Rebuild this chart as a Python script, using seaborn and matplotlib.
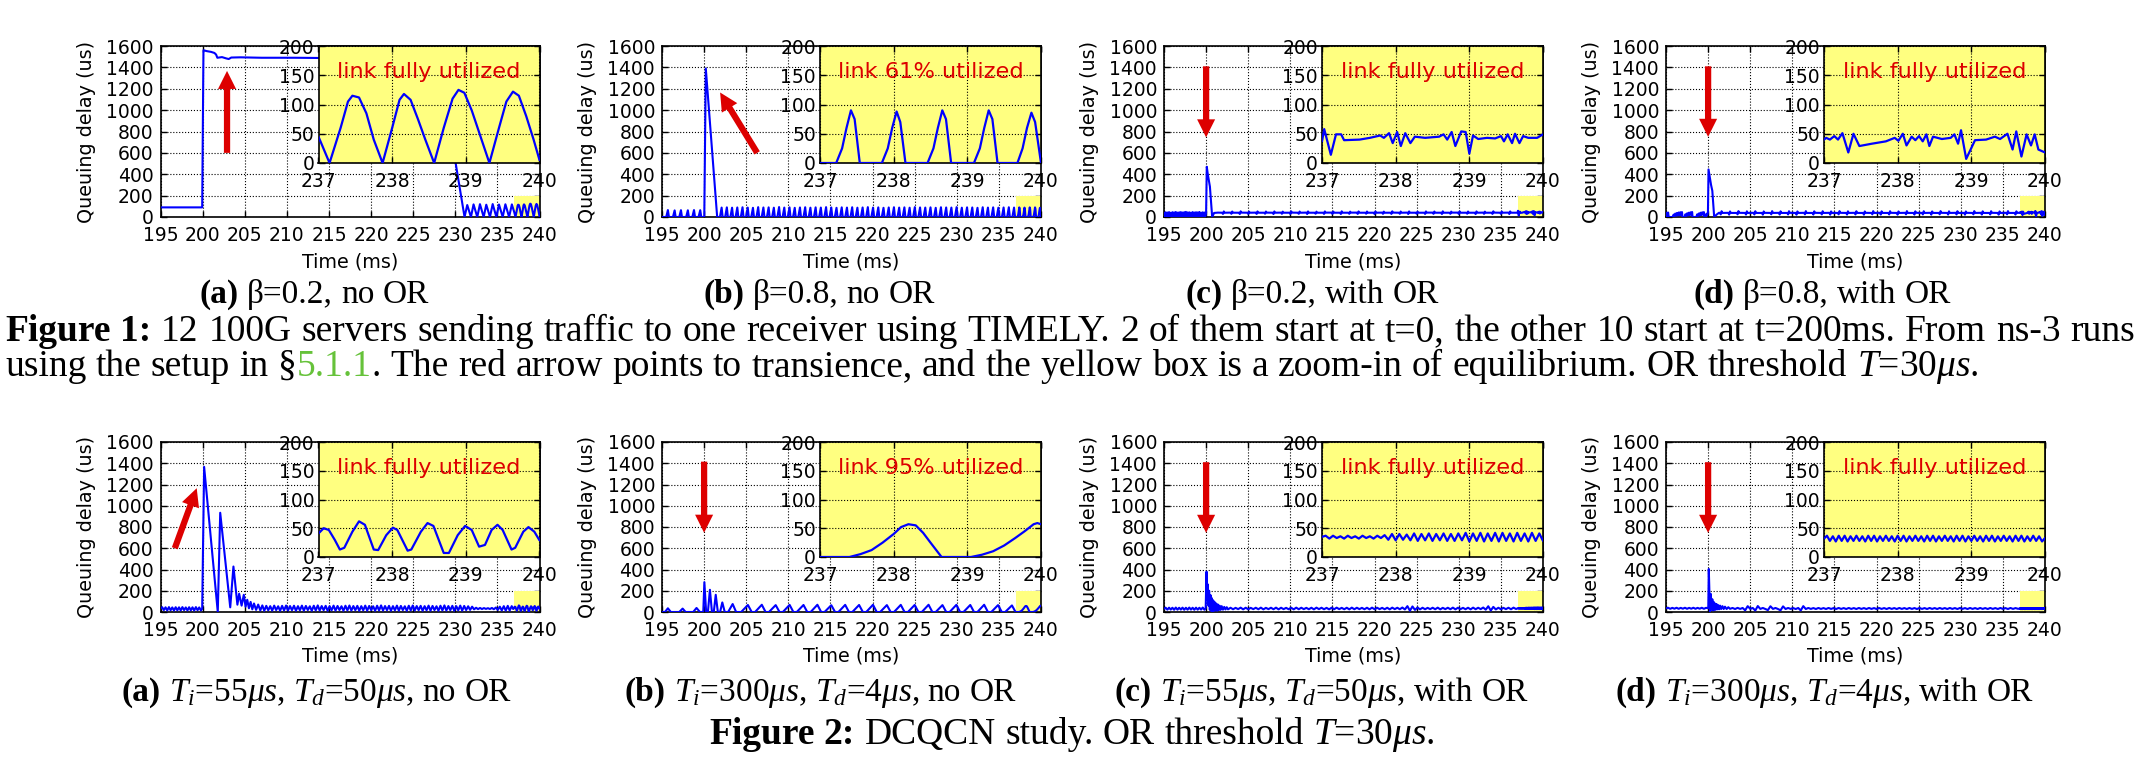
import numpy as np
import pandas as pd
import matplotlib
matplotlib.use('Agg')
import matplotlib.pyplot as plt
import matplotlib.transforms as mtransforms
import seaborn as sns

# zoom window shown in every inset (time in ms, queuing delay in us)
zoom_t = [237, 240]
zoom_q = [0, 200]

main_xticks = list(range(195, 241, 5))
main_yticks = list(range(0, 1601, 200))
zoom_xticks = [237, 238, 239, 240]
zoom_yticks = [0, 50, 100, 150, 200]

# ---------------- Figure 1: TIMELY ----------------
# (a) beta=0.2, no OR
timely_a = [
    (195.0, 90), (199.95, 90), (200.1, 1560), (200.5, 1552), (201.0, 1545), (201.4, 1535), (201.6, 1520),
    (201.75, 1490), (202.3, 1496), (202.8, 1484), (203.1, 1478), (203.4, 1492), (204.5, 1494), (207.0, 1490),
    (211.0, 1490), (215.0, 1487), (220.0, 1486), (225.0, 1484), (228.0, 1480),
    (231.1, 0), (231.42, 112), (231.86, 0), (232.17, 118), (232.61, 0), (232.93, 120), (233.37, 0),
    (233.68, 115), (234.12, 0), (234.44, 121), (234.88, 0), (235.19, 117), (235.63, 0), (235.95, 119),
    (236.39, 0), (236.72, 118),
]
timely_a_zoom = [
    (237.00, 45), (237.15, 0), (237.30, 60), (237.40, 105), (237.46, 115), (237.55, 112), (237.65, 85),
    (237.75, 40), (237.87, 0), (238.00, 60), (238.10, 108), (238.16, 118), (238.25, 108), (238.35, 75),
    (238.45, 40), (238.57, 0), (238.70, 60), (238.82, 110), (238.90, 125), (238.98, 120), (239.08, 90),
    (239.20, 45), (239.32, 0), (239.45, 60), (239.55, 105), (239.64, 122), (239.72, 115), (239.82, 80),
    (239.92, 40), (240.00, 5),
]

# (b) beta=0.8, no OR
timely_b = [
    (195.0, 0), (195.5, 0), (195.7, 65), (195.82, 0), (196.3, 0), (196.5, 62), (196.62, 0),
    (197.05, 0), (197.25, 64), (197.37, 0), (197.87, 0), (198.07, 63), (198.19, 0), (198.6, 0),
    (198.8, 65), (198.92, 0), (199.34, 0), (199.54, 64), (199.66, 0), (200.02, 0), (200.2, 1390), (201.55, 0),
    (201.88, 0), (202.08, 88), (202.20, 0), (202.50, 0), (202.70, 90), (202.82, 0),
    (203.12, 0), (203.32, 87), (203.44, 0), (203.74, 0), (203.94, 89), (204.06, 0),
    (204.36, 0), (204.56, 91), (204.68, 0), (204.98, 0), (205.18, 88), (205.30, 0),
    (205.60, 0), (205.80, 86), (205.92, 0), (206.22, 0), (206.42, 92), (206.54, 0),
    (206.84, 0), (207.04, 89), (207.16, 0), (207.46, 0), (207.66, 90), (207.78, 0),
    (208.08, 0), (208.28, 87), (208.40, 0), (208.70, 0), (208.90, 93), (209.02, 0),
    (209.32, 0), (209.52, 88), (209.64, 0), (209.94, 0), (210.14, 90), (210.26, 0),
    (210.56, 0), (210.76, 86), (210.88, 0), (211.18, 0), (211.38, 89), (211.50, 0),
    (211.80, 0), (212.00, 91), (212.12, 0), (212.42, 0), (212.62, 87), (212.74, 0),
    (213.04, 0), (213.24, 90), (213.36, 0), (213.66, 0), (213.86, 88), (213.98, 0),
    (214.28, 0), (214.48, 92), (214.60, 0), (214.90, 0), (215.10, 89), (215.22, 0),
    (215.52, 0), (215.72, 86), (215.84, 0), (216.14, 0), (216.34, 90), (216.46, 0),
    (216.76, 0), (216.96, 88), (217.08, 0), (217.38, 0), (217.58, 91), (217.70, 0),
    (218.00, 0), (218.20, 87), (218.32, 0), (218.62, 0), (218.82, 89), (218.94, 0),
    (219.24, 0), (219.44, 92), (219.56, 0), (219.86, 0), (220.06, 88), (220.18, 0),
    (220.48, 0), (220.68, 90), (220.80, 0), (221.10, 0), (221.30, 86), (221.42, 0),
    (221.72, 0), (221.92, 89), (222.04, 0), (222.34, 0), (222.54, 91), (222.66, 0),
    (222.96, 0), (223.16, 88), (223.28, 0), (223.58, 0), (223.78, 90), (223.90, 0),
    (224.20, 0), (224.40, 87), (224.52, 0), (224.82, 0), (225.02, 92), (225.14, 0),
    (225.44, 0), (225.64, 89), (225.76, 0), (226.06, 0), (226.26, 88), (226.38, 0),
    (226.68, 0), (226.88, 90), (227.00, 0), (227.30, 0), (227.50, 86), (227.62, 0),
    (227.92, 0), (228.12, 91), (228.24, 0), (228.54, 0), (228.74, 89), (228.86, 0),
    (229.16, 0), (229.36, 88), (229.48, 0), (229.78, 0), (229.98, 92), (230.10, 0),
    (230.40, 0), (230.60, 87), (230.72, 0), (231.02, 0), (231.22, 90), (231.34, 0),
    (231.64, 0), (231.84, 89), (231.96, 0), (232.26, 0), (232.46, 86), (232.58, 0),
    (232.88, 0), (233.08, 91), (233.20, 0), (233.50, 0), (233.70, 88), (233.82, 0),
    (234.12, 0), (234.32, 90), (234.44, 0), (234.74, 0), (234.94, 87), (235.06, 0),
    (235.36, 0), (235.56, 89), (235.68, 0), (235.98, 0), (236.18, 91), (236.30, 0),
    (236.60, 0), (236.80, 88), (236.92, 0),
]
timely_b_zoom = [
    (237.00, 0), (237.22, 0), (237.30, 25), (237.36, 60), (237.42, 90), (237.47, 75), (237.54, 0),
    (237.84, 0), (237.92, 25), (237.98, 60), (238.04, 88), (238.09, 70), (238.16, 0),
    (238.46, 0), (238.54, 25), (238.60, 60), (238.66, 90), (238.71, 75), (238.78, 0),
    (239.09, 0), (239.17, 25), (239.23, 60), (239.29, 90), (239.34, 75), (239.41, 0),
    (239.68, 0), (239.75, 25), (239.81, 60), (239.87, 86), (239.92, 70), (240.00, 0),
]

# (c) beta=0.2, with OR
timely_c = [
    (195.0, 40), (195.1, 5), (195.2, 44), (195.3, 8), (195.4, 42), (195.5, 3), (195.6, 46), (195.7, 10), (195.8, 40), (195.9, 4),
    (196.0, 45), (196.1, 7), (196.2, 43), (196.3, 2), (196.4, 47), (196.5, 9), (196.6, 41), (196.7, 5), (196.8, 44), (196.9, 6),
    (197.0, 46), (197.1, 3), (197.2, 42), (197.3, 8), (197.4, 45), (197.5, 4), (197.6, 48), (197.7, 7), (197.8, 43), (197.9, 2),
    (198.0, 44), (198.1, 9), (198.2, 41), (198.3, 5), (198.4, 46), (198.5, 6), (198.6, 42), (198.7, 3), (198.8, 45), (198.9, 8),
    (199.0, 43), (199.1, 4), (199.2, 47), (199.3, 6), (199.4, 41), (199.5, 3), (199.6, 44), (199.7, 7), (199.8, 42), (199.9, 5),
    (200.0, 40), (200.08, 470), (200.2, 400), (200.35, 330), (200.45, 285), (200.72, 0), (200.95, 38), (201.4, 41),
    (201.9, 40), (202.0, 29), (202.1, 52), (202.2, 40), (202.9, 41), (203.0, 30), (203.1, 51), (203.2, 40),
    (203.9, 40), (204.0, 28), (204.1, 53), (204.2, 41), (204.9, 40), (205.0, 30), (205.1, 50), (205.2, 40),
    (205.9, 41), (206.0, 29), (206.1, 52), (206.2, 40), (206.9, 40), (207.0, 31), (207.1, 51), (207.2, 41),
    (207.9, 40), (208.0, 28), (208.1, 52), (208.2, 40), (208.9, 41), (209.0, 30), (209.1, 50), (209.2, 40),
    (209.9, 40), (210.0, 29), (210.1, 53), (210.2, 41), (210.9, 40), (211.0, 30), (211.1, 51), (211.2, 40),
    (211.9, 41), (212.0, 28), (212.1, 52), (212.2, 40), (212.9, 40), (213.0, 31), (213.1, 50), (213.2, 40),
    (213.9, 40), (214.0, 29), (214.1, 52), (214.2, 41), (214.9, 41), (215.0, 30), (215.1, 51), (215.2, 40),
    (215.9, 40), (216.0, 28), (216.1, 53), (216.2, 40), (216.9, 40), (217.0, 30), (217.1, 50), (217.2, 41),
    (217.9, 41), (218.0, 29), (218.1, 52), (218.2, 40), (218.9, 40), (219.0, 31), (219.1, 51), (219.2, 40),
    (219.9, 40), (220.0, 28), (220.1, 52), (220.2, 40), (220.9, 41), (221.0, 30), (221.1, 50), (221.2, 40),
    (221.9, 40), (222.0, 29), (222.1, 53), (222.2, 41), (222.9, 40), (223.0, 30), (223.1, 51), (223.2, 40),
    (223.9, 41), (224.0, 28), (224.1, 52), (224.2, 40), (224.9, 40), (225.0, 31), (225.1, 50), (225.2, 40),
    (225.9, 40), (226.0, 29), (226.1, 52), (226.2, 41), (226.9, 41), (227.0, 30), (227.1, 51), (227.2, 40),
    (227.9, 40), (228.0, 28), (228.1, 53), (228.2, 40), (228.9, 40), (229.0, 30), (229.1, 50), (229.2, 41),
    (229.9, 41), (230.0, 29), (230.1, 52), (230.2, 40), (230.9, 40), (231.0, 31), (231.1, 51), (231.2, 40),
    (231.9, 40), (232.0, 28), (232.1, 52), (232.2, 40), (232.9, 41), (233.0, 30), (233.1, 50), (233.2, 40),
    (233.9, 40), (234.0, 29), (234.1, 53), (234.2, 41), (234.9, 40), (235.0, 30), (235.1, 51), (235.2, 40),
    (235.9, 41), (236.0, 28), (236.1, 52), (236.2, 40), (236.9, 40),
]
timely_c_zoom = [
    (237.00, 37), (237.03, 58), (237.12, 14), (237.19, 49), (237.26, 49), (237.30, 39), (237.51, 40),
    (237.65, 43), (237.79, 47), (237.84, 43), (237.91, 51), (237.96, 34), (238.02, 53), (238.07, 29),
    (238.13, 51), (238.20, 34), (238.26, 45), (238.40, 43), (238.59, 45), (238.65, 49), (238.70, 40),
    (238.76, 53), (238.81, 29), (238.89, 54), (238.95, 53), (239.00, 16), (239.05, 47), (239.12, 41),
    (239.24, 43), (239.35, 42), (239.43, 46), (239.47, 37), (239.52, 49), (239.58, 34), (239.62, 50),
    (239.68, 34), (239.73, 46), (239.80, 43), (239.92, 43), (240.00, 49),
]

# (d) beta=0.8, with OR
timely_d = [
    (195.0, 0), (195.05, 40), (195.15, 6), (195.25, 42), (195.32, 0), (195.8, 0), (195.9, 22), (196.0, 8),
    (196.1, 32), (196.2, 12), (196.3, 38), (196.4, 14), (196.5, 42), (196.6, 16), (196.7, 45), (196.8, 18),
    (196.9, 46), (196.95, 0), (197.2, 0), (197.3, 25), (197.4, 10), (197.5, 34), (197.6, 14), (197.7, 40),
    (197.8, 18), (197.9, 44), (198.0, 20), (198.1, 47), (198.15, 0), (198.6, 0), (198.7, 24), (198.8, 10),
    (198.9, 33), (199.0, 15), (199.1, 40), (199.2, 18), (199.3, 44), (199.4, 22), (199.5, 46), (199.55, 0),
    (199.75, 0), (199.8, 30), (199.9, 18), (199.98, 45),
    (200.05, 445), (200.35, 300), (200.5, 245), (200.72, 0), (201.0, 22), (201.3, 40),
    (201.4, 38), (201.5, 24), (201.6, 54), (201.7, 38), (202.4, 39), (202.5, 22), (202.6, 52), (202.7, 38),
    (203.4, 38), (203.5, 25), (203.6, 55), (203.7, 39), (204.4, 38), (204.5, 23), (204.6, 53), (204.7, 38),
    (205.4, 39), (205.5, 24), (205.6, 54), (205.7, 38), (206.4, 38), (206.5, 22), (206.6, 52), (206.7, 39),
    (207.4, 38), (207.5, 25), (207.6, 55), (207.7, 38), (208.4, 39), (208.5, 23), (208.6, 53), (208.7, 38),
    (209.4, 38), (209.5, 24), (209.6, 54), (209.7, 39), (210.4, 38), (210.5, 22), (210.6, 52), (210.7, 38),
    (211.4, 39), (211.5, 25), (211.6, 55), (211.7, 38), (212.4, 38), (212.5, 23), (212.6, 53), (212.7, 39),
    (213.4, 38), (213.5, 24), (213.6, 54), (213.7, 38), (214.4, 39), (214.5, 22), (214.6, 52), (214.7, 38),
    (215.4, 38), (215.5, 25), (215.6, 55), (215.7, 39), (216.4, 38), (216.5, 23), (216.6, 53), (216.7, 38),
    (217.4, 39), (217.5, 24), (217.6, 54), (217.7, 38), (218.4, 38), (218.5, 22), (218.6, 52), (218.7, 39),
    (219.4, 38), (219.5, 25), (219.6, 55), (219.7, 38), (220.4, 39), (220.5, 23), (220.6, 53), (220.7, 38),
    (221.4, 38), (221.5, 24), (221.6, 54), (221.7, 39), (222.4, 38), (222.5, 22), (222.6, 52), (222.7, 38),
    (223.4, 39), (223.5, 25), (223.6, 55), (223.7, 38), (224.4, 38), (224.5, 23), (224.6, 53), (224.7, 39),
    (225.4, 38), (225.5, 24), (225.6, 54), (225.7, 38), (226.4, 39), (226.5, 22), (226.6, 52), (226.7, 38),
    (227.4, 38), (227.5, 25), (227.6, 55), (227.7, 39), (228.4, 38), (228.5, 23), (228.6, 53), (228.7, 38),
    (229.4, 39), (229.5, 24), (229.6, 54), (229.7, 38), (230.4, 38), (230.5, 22), (230.6, 52), (230.7, 39),
    (231.4, 38), (231.5, 25), (231.6, 55), (231.7, 38), (232.4, 39), (232.5, 23), (232.6, 53), (232.7, 38),
    (233.4, 38), (233.5, 24), (233.6, 54), (233.7, 39), (234.4, 38), (234.5, 22), (234.6, 52), (234.7, 38),
    (235.4, 39), (235.5, 25), (235.6, 55), (235.7, 38), (236.4, 38), (236.5, 23), (236.6, 53), (236.7, 38),
    (236.95, 40),
]
timely_d_zoom = [
    (237.00, 40), (237.03, 43), (237.08, 40), (237.14, 46), (237.19, 40), (237.25, 51), (237.33, 18),
    (237.40, 50), (237.48, 29), (237.65, 33), (237.84, 37), (237.96, 43), (238.01, 38), (238.07, 50),
    (238.12, 30), (238.19, 45), (238.24, 39), (238.29, 46), (238.34, 37), (238.39, 49), (238.43, 29),
    (238.48, 45), (238.60, 41), (238.72, 43), (238.77, 49), (238.82, 33), (238.86, 56), (238.93, 7),
    (239.05, 39), (239.20, 40), (239.32, 45), (239.39, 41), (239.49, 50), (239.56, 23), (239.61, 54),
    (239.68, 11), (239.75, 49), (239.81, 30), (239.86, 49), (239.91, 23), (240.00, 18),
]

# ---------------- Figure 2: DCQCN ----------------
# (a) Ti=55us, Td=50us, no OR
dcqcn_a = [
    (195.0, 30), (195.2, 45), (195.4, 18), (195.6, 44), (195.8, 15), (196.0, 46), (196.2, 17), (196.4, 43), (196.6, 14), (196.8, 45),
    (197.0, 16), (197.2, 44), (197.4, 15), (197.6, 46), (197.8, 18), (198.0, 43), (198.2, 15), (198.4, 45), (198.6, 16), (198.8, 44),
    (199.0, 14), (199.2, 46), (199.4, 17), (199.6, 43), (199.8, 15), (199.95, 30),
    (200.18, 1366), (201.8, 0), (202.09, 934), (203.28, 44), (203.66, 428), (204.13, 69), (204.34, 172), (204.63, 60),
    (204.89, 162), (205.1, 50), (205.3, 115), (205.5, 35), (205.7, 95), (205.9, 25), (206.1, 80), (206.35, 20), (206.6, 70),
    (206.85, 15), (207.09, 62), (207.32, 12), (207.56, 58), (207.79, 16), (208.03, 55), (208.26, 13), (208.50, 60), (208.73, 18), (208.97, 54),
    (209.20, 12), (209.44, 58), (209.67, 15), (209.91, 61), (210.14, 14), (210.38, 56), (210.61, 17), (210.85, 59), (211.08, 12), (211.32, 55),
    (211.55, 16), (211.79, 60), (212.02, 13), (212.26, 57), (212.49, 18), (212.73, 54), (212.96, 12), (213.20, 59), (213.43, 15), (213.67, 62),
    (213.90, 14), (214.14, 56), (214.37, 17), (214.61, 58), (214.84, 12), (215.08, 55), (215.31, 16), (215.55, 60), (215.78, 13), (216.02, 57),
    (216.25, 18), (216.49, 54), (216.72, 12), (216.96, 59), (217.19, 15), (217.43, 61), (217.66, 14), (217.90, 56), (218.13, 17), (218.37, 58),
    (218.60, 12), (218.84, 55), (219.07, 16), (219.31, 60), (219.54, 13), (219.78, 57), (220.01, 18), (220.25, 54), (220.48, 12), (220.72, 59),
    (220.95, 15), (221.19, 62), (221.42, 14), (221.66, 56), (221.89, 17), (222.13, 58), (222.36, 12), (222.60, 55), (222.83, 16), (223.07, 60),
    (223.30, 13), (223.54, 57), (223.77, 18), (224.01, 54), (224.24, 12), (224.48, 59), (224.71, 15), (224.95, 61), (225.18, 14), (225.42, 56),
    (225.65, 17), (225.89, 58), (226.12, 12), (226.36, 55), (226.59, 16), (226.83, 60), (227.06, 13), (227.30, 57), (227.53, 18), (227.77, 54),
    (228.00, 12), (228.24, 59), (228.47, 15), (228.71, 62), (228.94, 14), (229.18, 56), (229.41, 17), (229.65, 58), (229.88, 12), (230.12, 55),
    (230.35, 16), (230.59, 60), (230.82, 13), (231.06, 57), (231.29, 18), (231.53, 54), (231.76, 20), (232.00, 50),
    (232.23, 25), (232.47, 40), (232.70, 27), (232.94, 38), (233.17, 28), (233.41, 37), (233.64, 29), (233.88, 36),
    (234.11, 28), (234.35, 38), (234.58, 26), (234.82, 42), (235.05, 20), (235.29, 50), (235.52, 15), (235.76, 55),
    (235.99, 13), (236.23, 58), (236.46, 14), (236.70, 55), (236.88, 28),
]
dcqcn_a_zoom = [
    (237.00, 41), (237.07, 50), (237.14, 47), (237.22, 30), (237.29, 13), (237.35, 16), (237.46, 44), (237.55, 62),
    (237.63, 56), (237.75, 13), (237.81, 12), (237.92, 38), (238.01, 51), (238.07, 47), (238.21, 11), (238.26, 13),
    (238.39, 44), (238.48, 59), (238.56, 54), (238.70, 7), (238.77, 7), (238.89, 38), (238.99, 54), (239.08, 47),
    (239.18, 18), (239.26, 21), (239.35, 47), (239.43, 56), (239.50, 47), (239.62, 13), (239.67, 16), (239.78, 44),
    (239.85, 52), (239.93, 44), (240.00, 29),
]

# (b) Ti=300us, Td=4us, no OR
dcqcn_b = [
    (195.0, 0), (195.35, 0), (195.7, 35), (196.05, 0), (197.05, 0), (197.45, 32), (197.8, 0), (198.7, 0), (199.1, 38),
    (199.5, 0), (199.9, 0), (200.03, 281), (200.24, 0), (200.45, 0), (200.69, 209), (200.93, 0), (201.15, 0),
    (201.38, 162), (201.63, 0), (201.9, 0), (202.16, 90), (202.45, 0), (202.85, 0), (203.39, 75), (203.8, 0),
    (204.40, 0), (205.20, 66), (205.65, 0), (206.05, 0), (206.85, 68), (207.30, 0),
    (207.70, 0), (208.50, 65), (208.95, 0), (209.35, 0), (210.15, 67), (210.60, 0),
    (211.00, 0), (211.80, 66), (212.25, 0), (212.65, 0), (213.45, 68), (213.90, 0),
    (214.30, 0), (215.10, 64), (215.55, 0), (215.95, 0), (216.75, 67), (217.20, 0),
    (217.60, 0), (218.40, 66), (218.85, 0), (219.25, 0), (220.05, 68), (220.50, 0),
    (220.90, 0), (221.70, 65), (222.15, 0), (222.55, 0), (223.35, 67), (223.80, 0),
    (224.20, 0), (225.00, 66), (225.45, 0), (225.85, 0), (226.65, 68), (227.10, 0),
    (227.50, 0), (228.30, 65), (228.75, 0), (229.15, 0), (229.95, 67), (230.40, 0),
    (230.80, 0), (231.60, 66), (232.05, 0), (232.45, 0), (233.25, 68), (233.70, 0),
    (234.10, 0), (234.90, 65), (235.35, 0), (235.75, 0), (236.55, 62), (236.98, 0),
]
dcqcn_b_zoom = [
    (237.00, 0), (237.40, 0), (237.55, 5), (237.70, 12), (237.85, 25), (238.00, 40), (238.10, 52), (238.20, 57),
    (238.30, 55), (238.40, 42), (238.50, 25), (238.65, 0), (239.05, 0), (239.20, 4), (239.35, 10), (239.50, 20),
    (239.65, 33), (239.78, 45), (239.90, 57), (239.95, 59), (240.00, 57),
]

# (c) Ti=55us, Td=50us, with OR
dcqcn_c = [
    (195.0, 30), (195.2, 40), (195.4, 22), (195.6, 41), (195.8, 23), (196.0, 40), (196.2, 21), (196.4, 42), (196.6, 22), (196.8, 40),
    (197.0, 23), (197.2, 41), (197.4, 21), (197.6, 40), (197.8, 22), (198.0, 42), (198.2, 23), (198.4, 40), (198.6, 21), (198.8, 41),
    (199.0, 22), (199.2, 40), (199.4, 23), (199.6, 42), (199.8, 21), (199.95, 35),
    (200.05, 380), (200.12, 120), (200.2, 260), (200.28, 60), (200.36, 200), (200.44, 20), (200.52, 160), (200.6, 10),
    (200.68, 130), (200.76, 5), (200.84, 110), (200.92, 10), (201.0, 95), (201.1, 15), (201.2, 80), (201.3, 12),
    (201.4, 70), (201.5, 18), (201.6, 60), (201.72, 20), (201.85, 55), (202.0, 22), (202.15, 48), (202.3, 24),
    (202.45, 45), (202.6, 25),
    (202.9, 40), (203.2, 26), (203.5, 39), (203.8, 27), (204.1, 41), (204.4, 25), (204.7, 40), (205.0, 26), (205.3, 39), (205.6, 27),
    (205.9, 40), (206.2, 26), (206.5, 41), (206.8, 25), (207.1, 39), (207.4, 27), (207.7, 40), (208.0, 26), (208.3, 41), (208.6, 25),
    (208.9, 40), (209.2, 27), (209.5, 39), (209.8, 26), (210.1, 40), (210.4, 25), (210.7, 41), (211.0, 26), (211.3, 40), (211.6, 27),
    (211.9, 39), (212.2, 26), (212.5, 40), (212.8, 25), (213.1, 41), (213.4, 27), (213.7, 40), (214.0, 26), (214.3, 39), (214.6, 25),
    (214.9, 40), (215.2, 26), (215.5, 41), (215.8, 27), (216.1, 39), (216.4, 26), (216.7, 40), (217.0, 25), (217.3, 41), (217.6, 26),
    (217.9, 40), (218.2, 27), (218.5, 39), (218.8, 26), (219.1, 40), (219.4, 25), (219.7, 41), (220.0, 26), (220.3, 40), (220.6, 27),
    (220.9, 39), (221.2, 26), (221.5, 40), (221.8, 25), (222.1, 41), (222.4, 27), (222.7, 40), (223.0, 26), (223.3, 42), (223.6, 24),
    (223.9, 55), (224.2, 12), (224.5, 52), (224.8, 20), (225.1, 42), (225.4, 25), (225.7, 40), (226.0, 26), (226.3, 39), (226.6, 27),
    (226.9, 40), (227.2, 26), (227.5, 41), (227.8, 25), (228.1, 39), (228.4, 27), (228.7, 40), (229.0, 26), (229.3, 41), (229.6, 25),
    (229.9, 40), (230.2, 27), (230.5, 39), (230.8, 26), (231.1, 40), (231.4, 25), (231.7, 41), (232.0, 26), (232.3, 40), (232.6, 27),
    (232.9, 42), (233.2, 22), (233.5, 54), (233.8, 14), (234.1, 48), (234.4, 24), (234.7, 40), (235.0, 26), (235.3, 39), (235.6, 27),
    (235.9, 40), (236.2, 26), (236.5, 41), (236.8, 28),
]
dcqcn_c_zoom = [
    (237.00, 35), (237.05, 37), (237.10, 32), (237.15, 37), (237.20, 33), (237.25, 36), (237.30, 32), (237.35, 37),
    (237.40, 33), (237.45, 36), (237.50, 32), (237.55, 37), (237.60, 33), (237.65, 36), (237.70, 32), (237.75, 37),
    (237.80, 33), (237.85, 38), (237.90, 30), (237.95, 40), (238.00, 29), (238.05, 40), (238.10, 30), (238.15, 39),
    (238.20, 29), (238.25, 41), (238.30, 28), (238.35, 40), (238.40, 29), (238.45, 41), (238.50, 28), (238.55, 40),
    (238.60, 29), (238.65, 41), (238.70, 28), (238.75, 40), (238.80, 28), (238.85, 41), (238.90, 29), (238.95, 42),
    (239.00, 27), (239.05, 41), (239.10, 28), (239.15, 42), (239.20, 27), (239.25, 41), (239.30, 28), (239.35, 42),
    (239.40, 27), (239.45, 42), (239.50, 28), (239.55, 41), (239.60, 27), (239.65, 42), (239.70, 28), (239.75, 41),
    (239.80, 27), (239.85, 42), (239.90, 28), (239.95, 41), (240.00, 28),
]

# (d) Ti=300us, Td=4us, with OR
dcqcn_d = [
    (195.0, 35), (195.25, 40), (195.5, 30), (195.75, 39), (196.0, 31), (196.25, 40), (196.5, 30), (196.75, 39), (197.0, 31), (197.25, 40),
    (197.5, 30), (197.75, 39), (198.0, 31), (198.25, 40), (198.5, 30), (198.75, 39), (199.0, 31), (199.25, 40), (199.5, 30), (199.75, 39),
    (200.02, 36), (200.08, 405), (200.22, 0), (200.32, 170), (200.42, 20), (200.5, 120), (200.58, 15), (200.66, 95),
    (200.74, 20), (200.82, 80), (200.9, 22), (201.0, 75), (201.1, 25), (201.2, 65), (201.3, 25), (201.42, 60),
    (201.55, 28), (201.7, 55), (201.85, 28), (202.0, 50), (202.2, 28), (202.4, 45),
    (202.6, 30), (202.9, 38), (203.2, 28), (203.5, 39), (203.8, 29), (204.1, 38), (204.4, 16), (204.7, 55), (205.0, 30), (205.3, 38),
    (205.6, 14), (205.9, 56), (206.2, 29), (206.5, 38), (206.8, 28), (207.1, 18), (207.4, 54), (207.7, 29), (208.0, 38), (208.3, 28),
    (208.6, 16), (208.9, 53), (209.2, 28), (209.5, 38), (209.8, 29), (210.1, 37), (210.4, 28), (210.7, 38), (211.0, 15), (211.3, 55),
    (211.6, 28), (211.9, 38), (212.2, 29), (212.5, 37), (212.8, 28), (213.1, 38), (213.4, 29), (213.7, 37), (214.0, 28), (214.3, 38),
    (214.6, 29), (214.9, 37), (215.2, 28), (215.5, 38), (215.8, 29), (216.1, 37), (216.4, 28), (216.7, 38), (217.0, 29), (217.3, 37),
    (217.6, 28), (217.9, 38), (218.2, 29), (218.5, 37), (218.8, 28), (219.1, 38), (219.4, 29), (219.7, 37), (220.0, 28), (220.3, 38),
    (220.6, 29), (220.9, 37), (221.2, 28), (221.5, 38), (221.8, 29), (222.1, 37), (222.4, 28), (222.7, 38), (223.0, 29), (223.3, 37),
    (223.6, 28), (223.9, 38), (224.2, 29), (224.5, 37), (224.8, 28), (225.1, 38), (225.4, 29), (225.7, 37), (226.0, 28), (226.3, 38),
    (226.6, 29), (226.9, 37), (227.2, 28), (227.5, 38), (227.8, 29), (228.1, 37), (228.4, 28), (228.7, 38), (229.0, 29), (229.3, 37),
    (229.6, 28), (229.9, 38), (230.2, 29), (230.5, 37), (230.8, 28), (231.1, 38), (231.4, 29), (231.7, 37), (232.0, 28), (232.3, 38),
    (232.6, 29), (232.9, 37), (233.2, 28), (233.5, 38), (233.8, 29), (234.1, 37), (234.4, 28), (234.7, 38), (235.0, 29), (235.3, 37),
    (235.6, 28), (235.9, 38), (236.2, 29), (236.5, 37), (236.8, 30),
]
dcqcn_d_zoom = [
    (237.00, 32), (237.04, 37), (237.08, 28), (237.12, 36), (237.16, 27), (237.20, 37), (237.24, 28), (237.28, 37),
    (237.32, 27), (237.36, 36), (237.40, 28), (237.44, 37), (237.48, 28), (237.52, 36), (237.56, 27), (237.60, 37),
    (237.64, 28), (237.68, 37), (237.72, 27), (237.76, 36), (237.80, 28), (237.84, 37), (237.88, 28), (237.92, 36),
    (237.96, 27), (238.00, 37), (238.04, 28), (238.08, 37), (238.12, 27), (238.16, 36), (238.20, 28), (238.24, 37),
    (238.28, 28), (238.32, 36), (238.36, 27), (238.40, 37), (238.44, 28), (238.48, 37), (238.52, 27), (238.56, 36),
    (238.60, 28), (238.64, 37), (238.68, 28), (238.72, 36), (238.76, 27), (238.80, 37), (238.84, 28), (238.88, 37),
    (238.92, 27), (238.96, 36), (239.00, 28), (239.04, 37), (239.08, 28), (239.12, 36), (239.16, 27), (239.20, 37),
    (239.24, 28), (239.28, 37), (239.32, 27), (239.36, 36), (239.40, 28), (239.44, 37), (239.48, 28), (239.52, 36),
    (239.56, 27), (239.60, 37), (239.64, 28), (239.68, 37), (239.72, 27), (239.76, 36), (239.80, 28), (239.84, 37),
    (239.88, 28), (239.92, 36), (239.96, 27), (240.00, 33),
]

series = [
    [(timely_a, timely_a_zoom), (timely_b, timely_b_zoom), (timely_c, timely_c_zoom), (timely_d, timely_d_zoom)],
    [(dcqcn_a, dcqcn_a_zoom), (dcqcn_b, dcqcn_b_zoom), (dcqcn_c, dcqcn_c_zoom), (dcqcn_d, dcqcn_d_zoom)],
]
notes = [
    ['link fully utilized', 'link 61% utilized', 'link fully utilized', 'link fully utilized'],
    ['link fully utilized', 'link 95% utilized', 'link fully utilized', 'link fully utilized'],
]
# red arrows: (tail, tip) in data coordinates
arrows = [
    [((202.9, 600), (202.9, 1367)), ((206.3, 600), (201.9, 1165)), ((200, 1410), (200, 745)), ((200, 1410), (200, 750))],
    [((196.7, 600), (199.3, 1165)), ((200, 1415), (200, 746)), ((200, 1410), (200, 745)), ((200, 1410), (200, 745))],
]

letters = ['(a)', '(b)', '(c)', '(d)']
top_caps = [['β=0.2,', 'no', 'OR'], ['β=0.8,', 'no', 'OR'], ['β=0.2,', 'with', 'OR'], ['β=0.8,', 'with', 'OR']]
bottom_caps = [
    ['$T_i$=55$\\mu s$,', '$T_d$=50$\\mu s$,', 'no', 'OR'],
    ['$T_i$=300$\\mu s$,', '$T_d$=4$\\mu s$,', 'no', 'OR'],
    ['$T_i$=55$\\mu s$,', '$T_d$=50$\\mu s$,', 'with', 'OR'],
    ['$T_i$=300$\\mu s$,', '$T_d$=4$\\mu s$,', 'with', 'OR'],
]

# ---------------- layout (pixels) ----------------
W, H = 2142, 760
col_left = [160.5, 662, 1164, 1666]
axes_w = 379
inset_off = 158
row_top = [46, 442]
row_bottom = [217, 612]
inset_bottom = [163, 557]
cap_center = [[314, 819, 1312, 1822], [316, 820, 1321, 1824]]
cap_base = [303, 701]

yellow = '#ffff80'
red = '#dd0000'
green = '#66c23a'

sns.set_theme(style='ticks', rc={
    'axes.edgecolor': 'black', 'axes.linewidth': 1.2,
    'xtick.direction': 'in', 'ytick.direction': 'in',
    'xtick.color': 'black', 'ytick.color': 'black',
    'axes.labelcolor': 'black', 'text.color': 'black',
})
plt.rcParams['font.family'] = ['DejaVu Sans']
plt.rcParams['mathtext.fontset'] = 'custom'
plt.rcParams['mathtext.rm'] = 'Liberation Serif'
plt.rcParams['mathtext.it'] = 'Liberation Serif:italic'
plt.rcParams['mathtext.bf'] = 'Liberation Serif:bold'

fig = plt.figure(figsize=(W / 100, H / 100), dpi=100)


def px_axes(l, t, r, b):
    return fig.add_axes([l / W, 1 - b / H, (r - l) / W, (b - t) / H])


def style_axes(ax, xticks, yticks, ypad):
    ax.set_xticks(xticks)
    ax.set_yticks(yticks)
    ax.grid(True, linestyle=':', color='black', linewidth=0.8)
    ax.tick_params(direction='in', top=True, right=True, length=4, width=1, labelsize=13.5)
    ax.tick_params(axis='x', pad=6.5)
    ax.tick_params(axis='y', pad=ypad)
    for s in ax.spines.values():
        s.set_color('black')
        s.set_linewidth(1.2)


for row in range(2):
    for col in range(4):
        main, zoom = series[row][col]
        l = col_left[col]
        r = l + axes_w
        t, b = row_top[row], row_bottom[row]

        ax = px_axes(l, t, r, b)
        ax.fill_between(zoom_t, zoom_q[0], zoom_q[1], color=yellow, lw=0, zorder=1)
        df = pd.DataFrame(main + zoom, columns=['t', 'q'])
        sns.lineplot(data=df, x='t', y='q', ax=ax, color='blue', linewidth=1.5,
                     estimator=None, sort=False, legend=False, zorder=3)
        ax.set_xlim(195, 240)
        ax.set_ylim(0, 1600)
        style_axes(ax, main_xticks, main_yticks, 5)
        ax.set_xlabel('Time (ms)', fontsize=13.8)
        ax.set_ylabel('Queuing delay (us)', fontsize=13.8)
        ax.xaxis.set_label_coords(0.5, -35 / (b - t))
        ax.yaxis.set_label_coords(-65 / axes_w, 0.5)

        tail, tip = arrows[row][col]
        ax.annotate('', xy=tip, xytext=tail, zorder=5,
                    arrowprops=dict(arrowstyle='simple,head_length=1.3,head_width=1.3,tail_width=0.45',
                                    mutation_scale=10, fc=red, ec='none', shrinkA=0, shrinkB=0))

        axi = px_axes(l + inset_off, t, r, inset_bottom[row])
        axi.set_facecolor(yellow)
        dz = pd.DataFrame(zoom, columns=['t', 'q'])
        sns.lineplot(data=dz, x='t', y='q', ax=axi, color='blue', linewidth=1.6,
                     estimator=None, sort=False, legend=False, zorder=3)
        axi.set_xlim(*zoom_t)
        axi.set_ylim(*zoom_q)
        style_axes(axi, zoom_xticks, zoom_yticks, 3)
        axi.set_xlabel('')
        axi.set_ylabel('')
        axi.text(sum(zoom_t) / 2, 155, notes[row][col], color=red, fontsize=16.2,
                 ha='center', va='center', zorder=4)


# ---------------- captions ----------------
renderer = fig.canvas.get_renderer()
ident = mtransforms.IdentityTransform()


def rich_line(words, base, size, left=None, center=None, width=None):
    # words: list of words, each a list of (text, kwargs) glued together
    space = 0.25 * size * fig.dpi / 72
    items = []
    for word in words:
        arts = []
        for s, kw in word:
            txt = fig.text(0, 0, s, transform=ident, fontsize=size, family='Liberation Serif',
                           va='baseline', ha='left', **kw)
            arts.append((txt, txt.get_window_extent(renderer).width))
        items.append((arts, sum(w for _, w in arts)))
    total = sum(w for _, w in items)
    gap = space
    if width is not None:
        gap = (width - total) / (len(items) - 1)
        x = left
    elif center is not None:
        x = center - (total + space * (len(items) - 1)) / 2
    else:
        x = left
    y = H - base
    for arts, ww in items:
        xx = x
        for txt, w in arts:
            txt.set_position((xx, y))
            xx += w
        x += ww + gap


def plain(words):
    return [[(w, {})] for w in words]


bold = {'weight': 'bold'}
for col in range(4):
    rich_line([[(letters[col], bold)]] + plain(top_caps[col]), cap_base[0], 24, center=cap_center[0][col])
    rich_line([[(letters[col], bold)]] + plain(bottom_caps[col]), cap_base[1], 24, center=cap_center[1][col])

line1 = [[('Figure', bold)], [('1:', bold)]] + plain(
    '12 100G servers sending traffic to one receiver using TIMELY. 2 of them start at t=0, '
    'the other 10 start at t=200ms. From ns-3 runs'.split())
rich_line(line1, 341, 27, left=5, width=2130)

line2 = plain('using the setup in'.split()) + [[('§', {}), ('5.1.1', {'color': green}), ('.', {})]] + plain(
    'The red arrow points to transience, and the yellow box is a zoom-in of equilibrium. OR threshold'.split()) + \
    [[('$T$=30$\\mu s$.', {})]]
rich_line(line2, 376, 27, left=5)

fig2 = [[('Figure', bold)], [('2:', bold)]] + plain('DCQCN study. OR threshold'.split()) + [[('$T$=30$\\mu s$.', {})]]
rich_line(fig2, 744, 27, center=1072)

fig.savefig('out.png', dpi=100)
